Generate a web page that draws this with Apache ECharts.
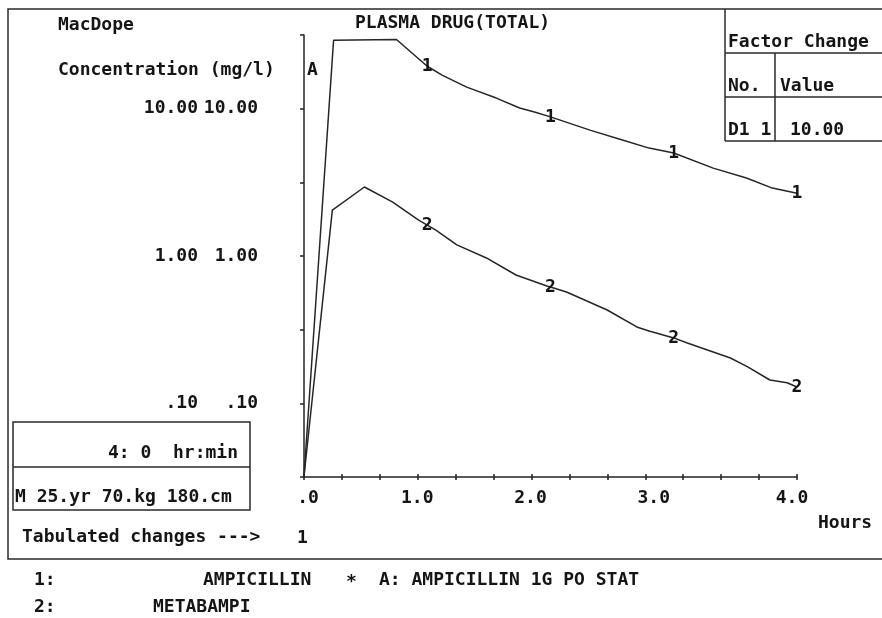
<!DOCTYPE html>
<html><head><meta charset="utf-8">
<script src="https://cdn.jsdelivr.net/npm/echarts@6/dist/echarts.min.js"></script>
<style>html,body{margin:0;padding:0;background:#fff}#c{width:882px;height:618px}</style>
</head><body><div id="c"></div>
<script>
// ---- data ----
const hours1 = [0, 0.24, 0.75, 1.0, 1.12, 1.32, 1.56, 1.75, 1.87, 2.0, 2.32, 2.59, 2.80, 3.0, 3.32, 3.59, 3.80, 4.0];
const conc1  = [0.032, 29.1, 29.5, 19.4, 16.9, 14.0, 11.8, 10.1, 9.5, 8.8, 7.15, 6.1, 5.4, 5.0, 3.95, 3.38, 2.89, 2.67];
const hours2 = [0, 0.23, 0.49, 0.72, 0.93, 1.0, 1.07, 1.24, 1.48, 1.72, 1.97, 2.0, 2.13, 2.46, 2.70, 2.80, 3.0, 3.11, 3.46, 3.60, 3.78, 3.92, 4.0];
const conc2  = [0.032, 2.05, 2.94, 2.32, 1.75, 1.62, 1.50, 1.19, 0.97, 0.743, 0.626, 0.616, 0.57, 0.43, 0.33, 0.31, 0.278, 0.257, 0.203, 0.177, 0.144, 0.138, 0.129];
const markerHours = [1, 2, 3, 4];
const seriesNames = ['1', '2'];
const xTickLabels = ['.0', '1.0', '2.0', '3.0', '4.0'];
const yTickLabels = {'-1': '.10', '0': '1.00', '1': '10.00'};

// ---- styling ----
const FONT = '"DejaVu Sans Mono", "Liberation Mono", monospace';
const INK = '#151515';
const txt = (x, y, s, extra) => Object.assign({
  type: 'text', x: x, y: y,
  style: Object.assign({text: s, font: 'bold 18px ' + FONT, fill: INK, textVerticalAlign: 'middle', textAlign: 'left'}, extra || {})
});
const line = (x1, y1, x2, y2) => ({type: 'line', shape: {x1, y1, x2, y2}, style: {stroke: '#2a2a2a', lineWidth: 1.5}});
const rect = (x, y, w, h) => ({type: 'rect', shape: {x, y, width: w, height: h}, style: {fill: null, stroke: '#2a2a2a', lineWidth: 1.5}});

const xShift = {0: [0, 0, 0, 8], 1: [0, 20, 0, 0], 2: [0, 40, 0, 0], 3: [0, 40, 0, 0], 4: [0, 10, 0, 0]};
const xRich = {};
Object.keys(xShift).forEach(k => { xRich['l' + k] = {padding: xShift[k], fontFamily: FONT, fontSize: 18, fontWeight: 'bold', color: INK}; });

function isMarker(h) { return markerHours.some(m => Math.abs(m - h) < 1e-9); }
function buildData(hours, conc, name) {
  return hours.map((h, i) => isMarker(h)
    ? {value: [h, conc[i]], symbol: 'circle', symbolSize: 2,
       label: {show: true, position: 'inside', formatter: name, fontFamily: FONT, fontSize: 18, fontWeight: 'bold', color: INK}}
    : {value: [h, conc[i]]});
}

function yLabel(v) {
  const e = Math.log10(v), r = Math.round(e);
  return Math.abs(e - r) < 1e-6 && yTickLabels[r] !== undefined ? yTickLabels[r] : '';
}

const baseX = {type: 'value', min: 0, max: 4, position: 'bottom', splitLine: {show: false}};
const baseY = {type: 'log', logBase: 10, min: Math.pow(10, -1.5), max: Math.pow(10, 1.5), interval: 0.5, position: 'left', splitLine: {show: false}, minorTick: {show: false}};

const lineSeries = (name, hours, conc) => ({
  type: 'line', name: name, xAxisIndex: 0, yAxisIndex: 0,
  data: buildData(hours, conc, name),
  symbol: 'none', showAllSymbol: true,
  itemStyle: {color: 'rgba(0,0,0,0)', borderWidth: 0},
  lineStyle: {color: '#262626', width: 1.5},
  animation: false, clip: true
});

const chart = echarts.init(document.getElementById('c'), null, {renderer: 'canvas'});
chart.setOption({
  backgroundColor: '#fff',
  animation: false,
  title: {text: 'PLASMA DRUG(TOTAL)', left: 355, top: 14, textStyle: {fontFamily: FONT, fontSize: 18, fontWeight: 'bold', color: INK}, padding: 0},
  grid: {left: 304, top: 35, right: 85, bottom: 141, containLabel: false},
  xAxis: [
    Object.assign({}, baseX, {
      interval: 1,
      axisLine: {show: true, lineStyle: {color: '#222', width: 1.5}},
      axisTick: {show: false},
      axisLabel: {margin: 12, formatter: v => '{l' + Math.round(v) + '|' + xTickLabels[Math.round(v)] + '}', rich: xRich,
                  fontFamily: FONT, fontSize: 18, fontWeight: 'bold', color: INK},
      name: 'Hours', nameLocation: 'end', nameGap: 21,
      nameTextStyle: {fontFamily: FONT, fontSize: 18, fontWeight: 'bold', color: INK, verticalAlign: 'top', padding: [37, 0, 0, 0]}
    }),
    Object.assign({}, baseX, {
      interval: 4 / 13, axisLine: {show: false}, axisLabel: {show: false},
      axisTick: {show: true, inside: true, length: 3, lineStyle: {color: '#222', width: 1.5}}
    }),
    Object.assign({}, baseX, {
      interval: 4 / 13, axisLine: {show: false}, axisLabel: {show: false},
      axisTick: {show: true, inside: false, length: 3, lineStyle: {color: '#222', width: 1.5}}
    })
  ],
  yAxis: [
    Object.assign({}, baseY, {
      axisLine: {show: true, lineStyle: {color: '#222', width: 1.5}},
      axisTick: {show: true, length: 4, lineStyle: {color: '#222', width: 1.5}},
      axisLabel: {margin: 46, formatter: yLabel, fontFamily: FONT, fontSize: 18, fontWeight: 'bold', color: INK}
    }),
    Object.assign({}, baseY, {
      axisLine: {show: false}, axisTick: {show: false},
      axisLabel: {margin: 106, formatter: yLabel, fontFamily: FONT, fontSize: 18, fontWeight: 'bold', color: INK}
    })
  ],
  series: [
    lineSeries(seriesNames[0], hours1, conc1),
    lineSeries(seriesNames[1], hours2, conc2)
  ],
  graphic: [
    rect(8, 9, 920, 550),
    // factor change table
    line(725, 9, 725, 141), line(725, 53, 882, 53), line(725, 97, 882, 97), line(725, 141, 882, 141),
    line(775, 53, 775, 141),
    txt(728, 42, 'Factor Change'),
    txt(728, 86, 'No.'), txt(780, 86, 'Value'),
    txt(728, 130, 'D1 1'), txt(790, 130, '10.00'),
    // header texts
    txt(58, 25, 'MacDope'),
    txt(58, 70, 'Concentration (mg/l)'),
    txt(307, 70, 'A'),
    // patient boxes
    rect(13, 422, 237, 88), line(13, 467, 250, 467),
    txt(238, 453, '4: 0  hr:min', {textAlign: 'right'}),
    txt(15, 497, 'M 25.yr 70.kg 180.cm'),
    txt(22, 537, 'Tabulated changes --->'),
    txt(297, 538, '1'),
    // legend
    txt(34, 580, '1:'), txt(203, 580, 'AMPICILLIN'), txt(346, 582, '*'), txt(379, 580, 'A: AMPICILLIN 1G PO STAT'),
    txt(34, 607, '2:'), txt(153, 607, 'METABAMPI')
  ]
});
</script>
</body></html>
